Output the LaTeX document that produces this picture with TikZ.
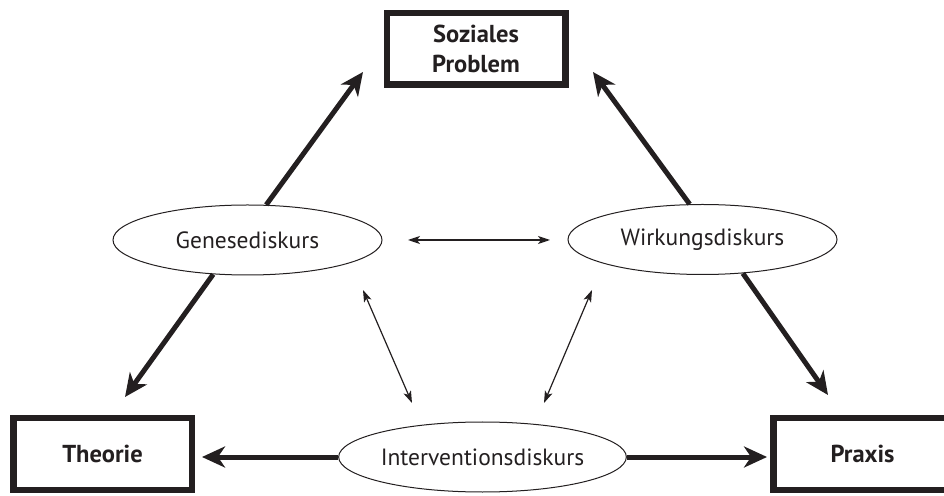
\documentclass[tikz,border=0pt]{standalone}
\usepackage{fontspec}
\setmainfont{PT Sans}
\usetikzlibrary{arrows.meta,shapes.geometric}
\definecolor{ink}{HTML}{231F20}
\begin{document}
\begin{tikzpicture}[x=1pt,y=1pt,
  box/.style={draw=ink, line width=6.5pt, fill=white, minimum width=178.5pt,
    minimum height=71.5pt, inner sep=0pt, align=center,
    font=\bfseries\fontsize{24.5}{30}\selectfont, text=ink},
  disc/.style={ellipse, draw=ink, line width=1pt, minimum width=269pt,
    minimum height=70pt, inner sep=0pt, font=\fontsize{23.5}{28}\selectfont, text=ink},
  big/.style={draw=ink, line width=5pt,
    -{Stealth[length=23pt,width=21pt,inset=7pt]}},
  small/.style={draw=ink, line width=1.2pt,
    {Stealth[length=12pt,width=8pt,inset=3pt]}-{Stealth[length=12pt,width=8pt,inset=3pt]}}
]
\useasboundingbox (0,0) rectangle (944,495);

% corner boxes
\node[box] (soz) at (476,446) {Soziales\\Problem};
\node[box] (theo) at (102.5,41) {Theorie};
\node[box] (prax) at (862.5,41) {Praxis};

% discourse ellipses
\node[disc] (gen) at (247.5,255) {Genesediskurs};
\node[disc] (wir) at (702.5,255.5) {Wirkungsdiskurs};
\node[disc, minimum width=271pt] (int) at (482.5,38) {Interventionsdiskurs};

% arrow tip positions near the boxes
\coordinate (sozL) at (363,423);
\coordinate (sozR) at (593,423);
\coordinate (theoT) at (125,98);
\coordinate (praxT) at (828,100);
\coordinate (theoR) at (202,38);
\coordinate (praxL) at (767,38);

% thick arrows from the discourses to the boxes
\draw[big] (gen.62) -- (sozL);
\draw[big] (gen.225) -- (theoT);
\draw[big] (wir.110) -- (sozR);
\draw[big] (wir.320) -- (praxT);
\draw[big] (int.west) -- (theoR);
\draw[big] (int.east) -- (praxL);

% thin links between the discourses
\coordinate (genE) at (408,255);
\coordinate (wirW) at (550,255);
\coordinate (genS) at (363,205);
\coordinate (intNW) at (412,92);
\coordinate (wirS) at (592,205);
\coordinate (intNE) at (544,92);
\draw[small] (genE) -- (wirW);
\draw[small] (genS) -- (intNW);
\draw[small] (wirS) -- (intNE);
\end{tikzpicture}
\end{document}
